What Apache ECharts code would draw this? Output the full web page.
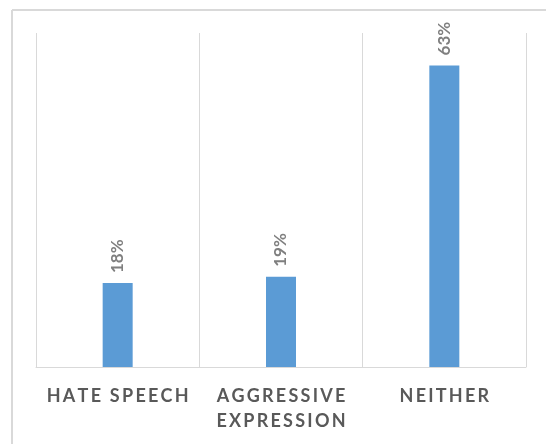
<!DOCTYPE html>
<html>
<head>
<meta charset="utf-8">
<script src="https://cdn.jsdelivr.net/npm/echarts@6/dist/echarts.min.js"></script>
<style>
html,body{margin:0;padding:0;background:#fff;}
#main{width:546px;height:444px;}
</style>
</head>
<body>
<div id="main"></div>
<script>
var categories = ['HATE SPEECH', 'AGGRESSIVE\nEXPRESSION', 'NEITHER'];
// bar heights; labels show them rounded
var shares = [17.6, 18.9, 63.2];

// canvas has no letter spacing, so spread the letters with thin spaces
function spread(s){
	return s.split('\n').map(function(line){
		return line.split('').join('\u2009');
	}).join('\n');
}

var myChart = echarts.init(document.getElementById('main'));
var option = {
	animation: false,
	grid: {left: 36, right: 20, top: 33, bottom: 77},
	graphic: [
		{type: 'line', shape: {x1: 12, y1: 10, x2: 546, y2: 10}, style: {stroke: '#d9d9d9', lineWidth: 2}},
		{type: 'line', shape: {x1: 12, y1: 10, x2: 12, y2: 444}, style: {stroke: '#d9d9d9', lineWidth: 2}}
	],
	xAxis: {
		type: 'category',
		data: categories,
		axisTick: {show: false},
		axisLine: {lineStyle: {color: '#d9d9d9', width: 1}},
		splitLine: {show: true, lineStyle: {color: '#d9d9d9', width: 1}},
		axisLabel: {
			interval: 0,
			margin: 17,
			color: '#595959',
			fontFamily: 'Lato',
			fontWeight: 'bold',
			fontSize: 18,
			lineHeight: 25,
			formatter: function(v){ return spread(v); }
		}
	},
	yAxis: {
		type: 'value',
		min: 0,
		max: 70,
		show: false,
		splitLine: {show: false}
	},
	series: [{
		type: 'bar',
		data: shares,
		barWidth: 30,
		itemStyle: {color: '#5b9bd5'},
		label: {
			show: true,
			position: 'top',
			rotate: 90,
			align: 'left',
			verticalAlign: 'middle',
			distance: 10,
			color: '#7f7f7f',
			fontFamily: 'Lato',
			fontWeight: 'bold',
			fontSize: 17,
			formatter: function(p){ return Math.round(p.value) + '%'; }
		}
	}]
};
myChart.setOption(option);
</script>
</body>
</html>
